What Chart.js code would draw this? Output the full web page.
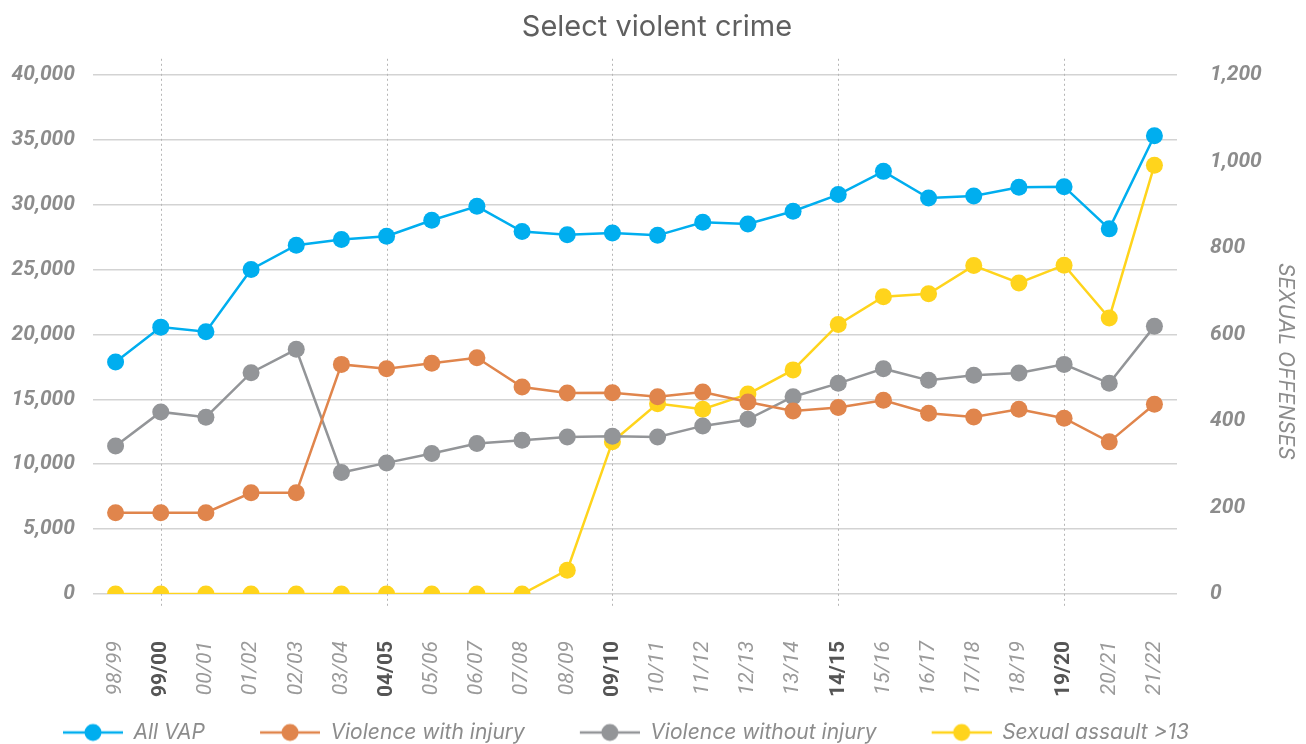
<!DOCTYPE html>
<html>
<head>
<meta charset="utf-8">
<script src="https://cdn.jsdelivr.net/npm/chart.js@4"></script>
<style>
html, body { margin: 0; padding: 0; background: #fff; }
#contenedor { width: 1306px; height: 744px; }
</style>
</head>
<body>
<div id="contenedor"><canvas id="graficaCrimen"></canvas></div>
<script>
// Años fiscales (eje X)
const periodos = ['98/99', '99/00', '00/01', '01/02', '02/03', '03/04', '04/05', '05/06',
    '06/07', '07/08', '08/09', '09/10', '10/11', '11/12', '12/13', '13/14', '14/15',
    '15/16', '16/17', '17/18', '18/19', '19/20', '20/21', '21/22'];

// Eje izquierdo
const todosVAP = [17870, 20560, 20200, 25000, 26870, 27310, 27560, 28790, 29870, 27920,
    27670, 27820, 27630, 28640, 28510, 29490, 30770, 32560, 30510, 30670, 31330, 31380,
    28130, 35310];
const conLesion = [6260, 6260, 6260, 7800, 7800, 17690, 17360, 17770, 18200, 15950, 15490,
    15510, 15200, 15560, 14790, 14100, 14360, 14920, 13920, 13640, 14230, 13540, 11720, 14620];
const sinLesion = [11410, 14030, 13620, 17050, 18850, 9360, 10100, 10820, 11590, 11850,
    12100, 12150, 12100, 12950, 13460, 15200, 16230, 17360, 16460, 16850, 17030, 17690,
    16230, 20620];

// Eje derecho
const agresionSexual = [0, 0, 0, 0, 0, 0, 0, 0, 0, 0, 55, 352, 440, 427, 462, 518, 623,
    687, 694, 759, 719, 760, 638, 991];

// Etiquetas de los ejes
const ticksIzquierda = [0, 5000, 10000, 15000, 20000, 25000, 30000, 35000, 40000];
const ticksDerecha = [0, 200, 400, 600, 800, 1000, 1200];
const destacados = [1, 6, 11, 16, 21];
const tituloDerecha = 'SEXUAL OFFENSES';

const colores = {
    vap: '#00aeef',
    con: '#e0854c',
    sin: '#939598',
    sexual: '#ffd41c'
};

const fuente = "Inter, 'Noto Sans', sans-serif";
const fuenteNum = "Roboto, 'Liberation Sans', sans-serif";
const gris = '#8c8c8c';

// Icono de la leyenda: línea con un punto al centro (el hueco de la izquierda separa los elementos)
const HUECO = 45;
function iconoLeyenda(color) {
    const c = document.createElement('canvas');
    c.width = HUECO + 60;
    c.height = 20;
    const g = c.getContext('2d');
    g.strokeStyle = color;
    g.lineWidth = 2.5;
    g.beginPath();
    g.moveTo(HUECO, 10);
    g.lineTo(HUECO + 60, 10);
    g.stroke();
    g.fillStyle = color;
    g.beginPath();
    g.arc(HUECO + 30, 10, 8.5, 0, Math.PI * 2);
    g.fill();
    return c;
}

// Líneas punteadas verticales cada cinco años
const lineasPunteadas = {
    id: 'lineasPunteadas',
    beforeDatasetsDraw(chart) {
        const x = chart.scales.x;
        const area = chart.chartArea;
        const ctx = chart.ctx;
        ctx.save();
        ctx.strokeStyle = '#b5b5b5';
        ctx.lineWidth = 1;
        ctx.setLineDash([2, 3]);
        destacados.forEach(i => {
            const px = Math.round(x.getPixelForValue(i)) + 0.5;
            ctx.beginPath();
            ctx.moveTo(px, area.top - 16);
            ctx.lineTo(px, area.bottom + 14);
            ctx.stroke();
        });
        ctx.restore();
    }
};

// Título del eje derecho, girado y un poco por debajo del centro
const tituloEjeDerecho = {
    id: 'tituloEjeDerecho',
    afterDraw(chart) {
        const eje = chart.scales.y1;
        const area = chart.chartArea;
        const ctx = chart.ctx;
        ctx.save();
        ctx.translate(eje.right - 21, (area.top + area.bottom) / 2 + 27);
        ctx.rotate(Math.PI / 2);
        ctx.fillStyle = gris;
        ctx.font = 'italic 21px ' + fuente;
        ctx.textAlign = 'center';
        ctx.textBaseline = 'middle';
        ctx.fillText(tituloDerecha, 0, 0);
        ctx.restore();
    }
};

function serie(label, data, color, eje) {
    return {
        label: label,
        data: data,
        yAxisID: eje,
        borderColor: color,
        backgroundColor: color,
        pointBackgroundColor: color,
        pointBorderWidth: 0,
        pointRadius: 8.5,
        borderWidth: 2.5,
        tension: 0,
        leyenda: iconoLeyenda(color)
    };
}

const ctx = document.getElementById('graficaCrimen').getContext('2d');
new Chart(ctx, {
    type: 'line',
    data: {
        labels: periodos,
        datasets: [
            serie('All VAP', todosVAP, colores.vap, 'y'),
            serie('Violence with injury', conLesion, colores.con, 'y'),
            serie('Violence without injury', sinLesion, colores.sin, 'y'),
            serie('Sexual assault >13', agresionSexual, colores.sexual, 'y1')
        ]
    },
    plugins: [lineasPunteadas, tituloEjeDerecho],
    options: {
        responsive: true,
        maintainAspectRatio: false,
        animation: false,
        layout: { autoPadding: false, padding: { left: 8, right: 0, top: 0, bottom: -9 } },
        scales: {
            x: {
                offset: true,
                grid: { display: false },
                border: { display: false },
                afterFit: eje => { eje.height = 118; },
                ticks: {
                    minRotation: 90,
                    maxRotation: 90,
                    padding: 39,
                    color: c => destacados.includes(c.index) ? '#555555' : '#9a9a9a',
                    font: c => destacados.includes(c.index)
                        ? { family: fuenteNum, size: 21, weight: 'bold' }
                        : { family: fuenteNum, size: 21, style: 'italic' }
                }
            },
            y: {
                position: 'left',
                min: 0,
                max: 40000,
                afterBuildTicks: eje => { eje.ticks = ticksIzquierda.map(v => ({ value: v })); },
                afterFit: eje => { eje.width = 85; },
                grid: { color: '#d3d3d3', lineWidth: 1.5, drawTicks: false },
                border: { display: false },
                ticks: {
                    padding: 18,
                    color: gris,
                    font: { family: fuenteNum, size: 21, weight: 'bold', style: 'italic' },
                    callback: v => v.toLocaleString('en-US')
                }
            },
            y1: {
                position: 'right',
                min: 0,
                max: 1200,
                afterBuildTicks: eje => { eje.ticks = ticksDerecha.map(v => ({ value: v })); },
                afterFit: eje => { eje.width = 129; },
                grid: { display: false },
                border: { display: false },
                ticks: {
                    padding: 25,
                    color: gris,
                    font: { family: fuenteNum, size: 21, weight: 'bold', style: 'italic' },
                    callback: v => v.toLocaleString('en-US')
                }
            }
        },
        plugins: {
            title: {
                display: true,
                text: 'Select violent crime',
                color: '#5f5f5f',
                padding: { top: 10, bottom: 30 },
                font: { family: fuente, size: 29, weight: 'normal' }
            },
            legend: {
                display: true,
                position: 'bottom',
                align: 'start',
                labels: {
                    usePointStyle: true,
                    pointStyleWidth: HUECO + 60,
                    boxHeight: 20,
                    padding: 10,
                    color: gris,
                    font: { family: fuente, size: 21, style: 'italic' },
                    generateLabels: chart => {
                        const items = Chart.defaults.plugins.legend.labels.generateLabels(chart);
                        items.forEach(it => {
                            it.pointStyle = chart.data.datasets[it.datasetIndex].leyenda;
                        });
                        return items;
                    }
                }
            },
            tooltip: { enabled: false }
        }
    }
});
</script>
</body>
</html>
